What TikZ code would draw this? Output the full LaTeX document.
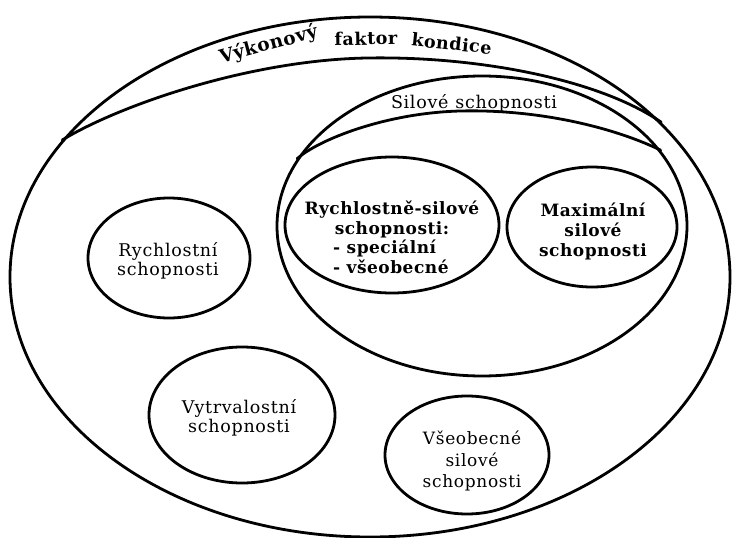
\documentclass[tikz,border=0pt]{standalone}
\usepackage{fontspec}
\setmainfont{DejaVu Serif}
\newfontfamily\labfont[LetterSpace=4]{DejaVu Serif}
\newfontfamily\boldfont[LetterSpace=3]{DejaVu Serif}
\usetikzlibrary{shapes.geometric}
\tikzset{
  ln/.style={line width=2.8pt, line cap=round, line join=round},
  blob/.style={draw, ellipse, ln, inner sep=0pt},
  lab/.style={align=center, inner sep=0pt, font=\labfont\fontsize{17.5}{19.5}\selectfont},
  labb/.style={align=center, inner sep=0pt, font=\boldfont\bfseries\fontsize{17}{20}\selectfont},
  ttl/.style={inner sep=0pt, anchor=base, font=\boldfont\bfseries\fontsize{17.5}{18}\selectfont},
}
\begin{document}
\begin{tikzpicture}[x=1pt,y=-1pt]
\useasboundingbox (0,0) rectangle (734,538);
% outer ellipse
\node[blob, minimum width=720, minimum height=520] (outer) at (370,277) {};
% cap arc of the outer ellipse
\coordinate (capL) at (outer.156);
\coordinate (capR) at (outer.28);
\coordinate (capM) at (367,58);
\draw[ln] (capL) .. controls (120,105) and (250,60) .. (capM)
          .. controls (480,56) and (600,80) .. (capR);
% title, word by word along the arc
\node[ttl, rotate=15, font=\boldfont\bfseries\fontsize{18.5}{19}\selectfont] (ttlA) at (270,50) {Výkonový};
\node[ttl, rotate=1] (ttlB) at (366,45) {faktor};
\node[ttl, rotate=-6] (ttlC) at (451,50) {kondice};
% Silove ellipse
\node[blob, minimum width=410, minimum height=300] (sil) at (482,226) {};
\coordinate (sL) at (sil.160.8);
\coordinate (sR) at (sil.23.1);
\coordinate (sM) at (460,111);
\draw[ln] (sL) .. controls (318,140) and (385,113) .. (sM)
          .. controls (540,109) and (615,128) .. (sR);
\node[lab] (silT) at (474,103) {Silové\hspace{7pt}schopnosti};
% inner circles
\node[blob, minimum width=162, minimum height=120] (rych) at (169,258) {};
\node[lab] (rychT) at (168,261) {Rychlostní\\schopnosti};
\node[blob, minimum width=214, minimum height=136] (rs) at (392,225) {};
\node[labb] (rsT) at (392,219) {Rychlostně-silové\\schopnosti:};
\node[labb, align=left, anchor=west] (rsL) at (333,257) {- speciální\\- všeobecné};
\node[blob, minimum width=170, minimum height=120] (max) at (592,227) {};
\node[labb] (maxT) at (593,231) {Maximální\\silové\\schopnosti};
\node[blob, minimum width=186, minimum height=136] (vytr) at (242,415) {};
\node[lab] (vytrT) at (239,418) {Vytrvalostní\\schopnosti};
\node[blob, minimum width=164, minimum height=118] (vseo) at (467,455) {};
\node[lab, font=\labfont\fontsize{17}{21.5}\selectfont] (vseoT) at (472,461) {Všeobecné\\silové\\schopnosti};
\end{tikzpicture}
\end{document}
